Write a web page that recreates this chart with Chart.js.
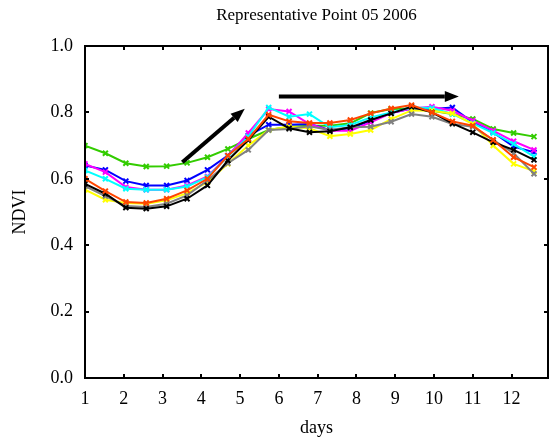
<!DOCTYPE html>
<html>
<head>
<meta charset="utf-8">
<script src="https://cdn.jsdelivr.net/npm/chart.js@4"></script>
<style>
  body { margin: 0; background: #fff; }
  #wrap { width: 554px; height: 439px; }
</style>
</head>
<body>
<div id="wrap"><canvas id="ndviChart" width="554" height="439"></canvas></div>
<script>
// x positions of the 23 composites (16-day steps, expressed in months)
const days = [1.000, 1.526, 2.053, 2.579, 3.105, 3.632, 4.158, 4.684, 5.211, 5.737, 6.263, 6.789,
    7.316, 7.842, 8.368, 8.895, 9.421, 9.947, 10.474, 11.000, 11.526, 12.053, 12.579];

const xTicks = [1, 2, 3, 4, 5, 6, 7, 8, 9, 10, 11, 12];
const yTicks = [0, 0.2, 0.4, 0.6, 0.8, 1.0];
const chartTitle = "Representative Point 05 2006";

const greenVals = [0.700, 0.677, 0.647, 0.637, 0.638, 0.648, 0.665, 0.690, 0.720, 0.747, 0.757, 0.760,
    0.760, 0.767, 0.798, 0.810, 0.812, 0.805, 0.795, 0.780, 0.750, 0.738, 0.727];
const blueVals = [0.640, 0.627, 0.593, 0.580, 0.580, 0.595, 0.627, 0.670, 0.730, 0.763, 0.763, 0.765,
    0.747, 0.752, 0.775, 0.798, 0.812, 0.810, 0.815, 0.770, 0.740, 0.697, 0.680];
const magentaVals = [0.645, 0.620, 0.575, 0.567, 0.567, 0.580, 0.607, 0.668, 0.738, 0.810, 0.803, 0.765,
    0.745, 0.745, 0.770, 0.798, 0.812, 0.817, 0.805, 0.775, 0.745, 0.713, 0.687];
const cyanVals = [0.625, 0.600, 0.570, 0.567, 0.567, 0.577, 0.605, 0.667, 0.727, 0.815, 0.787, 0.795,
    0.755, 0.762, 0.785, 0.800, 0.815, 0.813, 0.795, 0.767, 0.738, 0.705, 0.667];
const orangeVals = [0.600, 0.563, 0.530, 0.527, 0.540, 0.565, 0.600, 0.670, 0.720, 0.793, 0.773, 0.768,
    0.768, 0.777, 0.797, 0.812, 0.822, 0.800, 0.773, 0.760, 0.717, 0.665, 0.635];
const blackVals = [0.585, 0.555, 0.513, 0.510, 0.517, 0.540, 0.580, 0.655, 0.717, 0.787, 0.752, 0.740,
    0.743, 0.755, 0.777, 0.797, 0.817, 0.800, 0.767, 0.740, 0.710, 0.687, 0.657];
const grayVals = [0.578, 0.548, 0.518, 0.515, 0.525, 0.550, 0.595, 0.647, 0.687, 0.747, 0.750, 0.758,
    0.747, 0.755, 0.757, 0.772, 0.795, 0.787, 0.765, 0.757, 0.717, 0.677, 0.615];
const yellowVals = [0.567, 0.537, 0.527, 0.525, 0.535, 0.557, 0.590, 0.645, 0.700, 0.747, 0.757, 0.752,
    0.728, 0.735, 0.747, 0.780, 0.806, 0.805, 0.797, 0.765, 0.700, 0.645, 0.623];

// arrows drawn over the plot, in data units
const arrows = [
    { from: [3.51, 0.650], to: [5.12, 0.811] },
    { from: [6.00, 0.848], to: [10.64, 0.848] },
];

const serif = "'Liberation Serif', 'DejaVu Serif', serif";

function series(values, color) {
    return {
        data: days.map((d, i) => ({ x: d, y: values[i] })),
        borderColor: color,
        backgroundColor: color,
        borderWidth: 2,
        pointStyle: "crossRot",
        pointRadius: 3.5,
        pointBorderWidth: 2,
        tension: 0,
        fill: false,
    };
}

// frame, inward ticks, arrows and the title over the plot area
const framePlugin = {
    id: "frame",
    afterDatasetsDraw(chart) {
        const { ctx, chartArea: a, scales } = chart;
        ctx.save();
        ctx.strokeStyle = "#000";
        ctx.fillStyle = "#000";

        arrows.forEach((ar) => {
            const x1 = scales.x.getPixelForValue(ar.from[0]);
            const y1 = scales.y.getPixelForValue(ar.from[1]);
            const x2 = scales.x.getPixelForValue(ar.to[0]);
            const y2 = scales.y.getPixelForValue(ar.to[1]);
            const ang = Math.atan2(y2 - y1, x2 - x1);
            const headLen = 14, headW = 5.5;
            const bx = x2 - headLen * Math.cos(ang);
            const by = y2 - headLen * Math.sin(ang);
            ctx.lineWidth = 4;
            ctx.beginPath();
            ctx.moveTo(x1, y1);
            ctx.lineTo(bx, by);
            ctx.stroke();
            ctx.beginPath();
            ctx.moveTo(x2, y2);
            ctx.lineTo(bx + headW * Math.sin(ang), by - headW * Math.cos(ang));
            ctx.lineTo(bx - headW * Math.sin(ang), by + headW * Math.cos(ang));
            ctx.closePath();
            ctx.fill();
        });

        ctx.lineWidth = 2;
        ctx.strokeRect(a.left, a.top, a.right - a.left, a.bottom - a.top);
        ctx.beginPath();
        xTicks.forEach((v) => {
            const px = Math.round(scales.x.getPixelForValue(v));
            ctx.moveTo(px, a.bottom);
            ctx.lineTo(px, a.bottom - 4);
            ctx.moveTo(px, a.top);
            ctx.lineTo(px, a.top + 4);
        });
        yTicks.forEach((v) => {
            const py = Math.round(scales.y.getPixelForValue(v));
            ctx.moveTo(a.left, py);
            ctx.lineTo(a.left + 4, py);
            ctx.moveTo(a.right, py);
            ctx.lineTo(a.right - 4, py);
        });
        ctx.stroke();

        ctx.font = "17px " + serif;
        ctx.textAlign = "center";
        ctx.textBaseline = "middle";
        ctx.fillText(chartTitle, (a.left + a.right) / 2, 16);
        ctx.restore();
    },
};

new Chart(document.getElementById("ndviChart"), {
    type: "line",
    data: {
        datasets: [
            series(orangeVals, "#ff4500"),
            series(blackVals, "#000000"),
            series(grayVals, "#808080"),
            series(yellowVals, "#ffff00"),
            series(cyanVals, "#00ffff"),
            series(magentaVals, "#ff00ff"),
            series(blueVals, "#0000ff"),
            series(greenVals, "#33cc00"),
        ],
    },
    options: {
        responsive: false,
        animation: false,
        devicePixelRatio: 1,
        layout: { padding: { left: 0, right: 2, top: 46, bottom: 0 } },
        plugins: {
            legend: { display: false },
            tooltip: { enabled: false },
            title: { display: false },
        },
        scales: {
            x: {
                type: "linear",
                min: 1,
                max: 12.94,
                afterBuildTicks: (scale) => { scale.ticks = xTicks.map((v) => ({ value: v })); },
                afterFit: (scale) => { scale.height = 61; },
                grid: { display: false, drawTicks: false },
                border: { display: false },
                ticks: {
                    color: "#000",
                    padding: 10,
                    maxRotation: 0,
                    font: { family: serif, size: 18 },
                },
                title: {
                    display: true,
                    text: "days",
                    color: "#000",
                    font: { family: serif, size: 18 },
                    padding: { top: 4, bottom: 0 },
                },
            },
            y: {
                type: "linear",
                min: 0,
                max: 1,
                afterBuildTicks: (scale) => { scale.ticks = yTicks.map((v) => ({ value: v })); },
                afterFit: (scale) => { scale.width = 85; },
                grid: { display: false, drawTicks: false },
                border: { display: false },
                ticks: {
                    color: "#000",
                    padding: 12,
                    font: { family: serif, size: 18 },
                    callback: (v) => Number(v).toFixed(1),
                },
                title: {
                    display: true,
                    text: "NDVI",
                    color: "#000",
                    font: { family: serif, size: 18 },
                    padding: { top: 9, bottom: 4 },
                },
            },
        },
    },
    plugins: [framePlugin],
});
</script>
</body>
</html>
